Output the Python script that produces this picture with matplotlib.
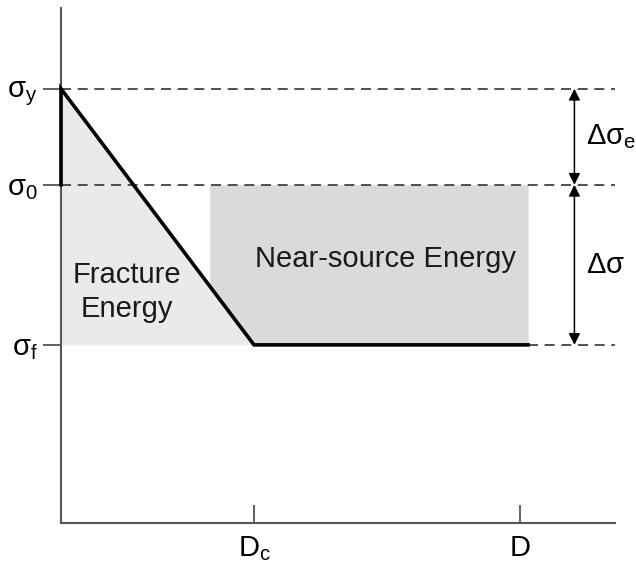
import numpy as np
import matplotlib.pyplot as plt

plt.rcParams['font.family'] = ['Liberation Sans', 'DejaVu Sans']
plt.rcParams['mathtext.fontset'] = 'custom'
plt.rcParams['mathtext.rm'] = 'Liberation Sans'

# stress levels
sigma_y = 4.34
sigma_0 = 3.38
sigma_f = 1.78

# slip values (Dc = critical slip, D = final slip)
d_c = 1.0
d_final = 2.38
slip_end = 2.42
near_source_start = 0.77

y_tick_labels = [r'$\mathregular{\sigma_f}$', r'$\mathregular{\sigma_0}$', r'$\mathregular{\sigma_y}$']
x_tick_labels = [r'$\mathregular{D_c}$', 'D']

x_max = 2.87
y_max = 5.15

line_col = '#555555'
fs = 21

fig = plt.figure(figsize=(6.36, 5.70), dpi=100)
ax = fig.add_axes([0.0959, 0.0825, 0.871, 0.904])


def weakening(x):
    return sigma_y - (sigma_y - sigma_f) * np.asarray(x) / d_c


# fracture energy: under the weakening line, above sigma_f
ax.fill_between([0, d_c], [sigma_f, sigma_f], weakening([0, d_c]),
                color='#eaeaea', lw=0, zorder=1)

# near-source energy: between sigma_0 and the stress curve
ns_x = [near_source_start, d_c, slip_end]
ns_low = [weakening(near_source_start), sigma_f, sigma_f]
ax.fill_between(ns_x, ns_low, sigma_0, color='#dadada', lw=0, zorder=1)

# dashed reference levels
dash = dict(ls=(0, (6, 4)), color='#333333', lw=1.2, zorder=2)
ax.plot([0, x_max], [sigma_y, sigma_y], **dash)
ax.plot([0, x_max], [sigma_0, sigma_0], **dash)
ax.plot([slip_end, x_max], [sigma_f, sigma_f], **dash)

# stress vs slip curve
ax.plot([0, 0, d_c, slip_end], [sigma_0, sigma_y, sigma_f, sigma_f],
        color='black', lw=2.6, solid_joinstyle='miter', zorder=3, clip_on=False)

ax.text(0.34, (sigma_0 + sigma_f) / 2 - 0.27, 'Fracture\nEnergy', ha='center', va='center',
        fontsize=fs, linespacing=1.25, color='#1a1a1a')
ax.text(1.68, 2.64, 'Near-source Energy', ha='center', va='center', fontsize=fs, color='#1a1a1a')

# stress drop arrows
arrow_x = 2.66
arr = dict(arrowstyle='<|-|>', color='black', lw=1.1, mutation_scale=17, shrinkA=0, shrinkB=0)
ax.annotate('', xy=(arrow_x, sigma_y), xytext=(arrow_x, sigma_0), arrowprops=arr, annotation_clip=False)
ax.annotate('', xy=(arrow_x, sigma_0), xytext=(arrow_x, sigma_f), arrowprops=arr, annotation_clip=False)
ax.text(arrow_x + 0.06, (sigma_y + sigma_0) / 2, r'$\mathregular{\Delta\sigma_e}$',
        ha='left', va='center', fontsize=fs)
ax.text(arrow_x + 0.06, (sigma_0 + sigma_f) / 2, r'$\mathregular{\Delta\sigma}$',
        ha='left', va='center', fontsize=fs)

ax.set_xlim(0, x_max)
ax.set_ylim(0, y_max)
ax.set_yticks([sigma_f, sigma_0, sigma_y])
ax.set_yticklabels(y_tick_labels, fontsize=fs)
ax.set_xticks([d_c, d_final])
ax.set_xticklabels(x_tick_labels, fontsize=fs)
ax.tick_params(axis='y', direction='out', length=13, width=1.3, color=line_col, pad=4)
ax.tick_params(axis='x', direction='in', length=13, width=1.3, color=line_col, pad=8)

for side in ['top', 'right']:
    ax.spines[side].set_visible(False)
for side in ['left', 'bottom']:
    ax.spines[side].set_color(line_col)
    ax.spines[side].set_linewidth(1.5)

fig.savefig('out.png', dpi=100)
